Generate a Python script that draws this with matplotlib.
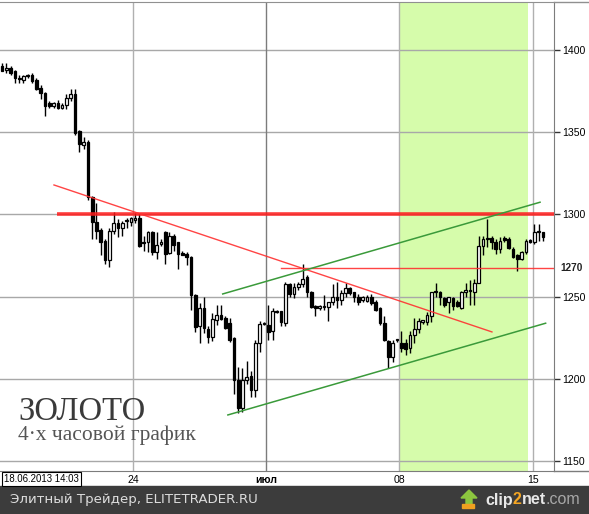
import numpy as np
import matplotlib.pyplot as plt
from matplotlib.patches import Rectangle, Polygon
from matplotlib.transforms import blended_transform_factory

# 4-hour gold candles, 18.06.2013 .. 15.07.2013 (open, high, low, close)
opens = [1390, 1388, 1389, 1387, 1383, 1381.5, 1385, 1384.5, 1382, 1377,
         1374, 1367.5, 1366, 1368, 1365, 1366.5, 1371, 1373, 1351, 1342,
         1344, 1310.5, 1295.5, 1290.5, 1284, 1272, 1290, 1295, 1292, 1296,
         1295.5, 1296.5, 1298, 1283.5, 1283, 1289.5, 1277, 1282, 1289, 1276.5,
         1287, 1283, 1276.5, 1276, 1274, 1251, 1232, 1243, 1230, 1225.5,
         1236, 1239, 1237, 1234, 1225, 1199, 1182, 1199, 1201.5, 1193,
         1222, 1233.5, 1233, 1229, 1241.5, 1241, 1234, 1257.5, 1251.5, 1256,
         1257.5, 1262, 1253, 1244, 1243, 1244.5, 1243.5, 1246.5, 1250, 1248,
         1252, 1255.5, 1252.5, 1250, 1248, 1247.5, 1249.5, 1247, 1243, 1234,
         1223, 1213.5, 1223.5, 1222, 1222, 1219, 1226.5, 1230, 1234.5, 1234.5,
         1238, 1253.5, 1253, 1249, 1247, 1249, 1246.5, 1243, 1253, 1253.5,
         1253, 1258.5, 1281, 1285, 1285.5, 1283.5, 1279, 1285.5, 1285, 1279,
         1275, 1273, 1277, 1284.5, 1283, 1289, 1289.5]
highs = [1392, 1392, 1390, 1388, 1385, 1385, 1385.5, 1386, 1383, 1379,
         1374.5, 1369, 1368.5, 1369.5, 1368, 1373, 1376, 1376, 1351.5, 1347,
         1345, 1311, 1307, 1292, 1285, 1292, 1301.5, 1297, 1296, 1298,
         1298.5, 1301, 1301, 1287, 1290, 1290, 1289.5, 1285, 1290, 1289.5,
         1288, 1283.5, 1277.5, 1277, 1274.5, 1251.5, 1246, 1250, 1232, 1240,
         1245, 1245, 1238, 1237, 1225.5, 1207, 1206.5, 1211, 1205, 1223.5,
         1235, 1234.5, 1245, 1243, 1242, 1241.5, 1259, 1258, 1258, 1259,
         1270, 1263, 1253.5, 1245, 1245, 1251, 1247, 1257.5, 1259, 1254,
         1258, 1256, 1253, 1251.5, 1250.5, 1251, 1251.5, 1248, 1243.5, 1238,
         1223.5, 1223.5, 1224.5, 1229, 1224.5, 1229, 1237, 1237, 1236, 1240.5,
         1253, 1258, 1253.5, 1250, 1250, 1250, 1248, 1253.5, 1258, 1260,
         1261, 1287, 1287, 1297, 1287, 1285, 1286, 1287, 1286, 1280,
         1276, 1278, 1285, 1285, 1294, 1294, 1289.5]
lows = [1387, 1386, 1385, 1380, 1380, 1380, 1383, 1380, 1375.5, 1370,
        1360, 1365, 1365, 1364, 1364, 1364, 1369, 1348, 1338, 1340,
        1309, 1285, 1285, 1275, 1270, 1268, 1288, 1286, 1287, 1292,
        1293, 1295, 1280, 1278, 1277, 1275, 1273, 1280.5, 1270, 1276,
        1278, 1267, 1275, 1269, 1242, 1228.5, 1222, 1228, 1222, 1223,
        1233, 1236, 1230, 1222.5, 1191, 1179, 1180, 1197, 1189, 1189,
        1216, 1232.5, 1223.5, 1223.5, 1240, 1232, 1232, 1250, 1249, 1254,
        1256, 1250, 1243, 1238, 1242, 1242, 1235, 1245, 1243, 1245,
        1250, 1251, 1247, 1245, 1247, 1247, 1245, 1241.5, 1233, 1223,
        1206.5, 1210, 1222.5, 1216, 1214.5, 1215.5, 1221.5, 1228, 1233.5, 1233,
        1234.5, 1249.5, 1245, 1243.5, 1240, 1242, 1243.5, 1242.5, 1250, 1245,
        1245, 1258, 1275, 1280, 1279, 1276, 1276.5, 1283.5, 1279, 1273.5,
        1265.5, 1272, 1276, 1282.5, 1282, 1284, 1284]
closes = [1387.5, 1389, 1386, 1383, 1382.5, 1384, 1384, 1381, 1376, 1374,
          1366, 1366, 1368, 1365, 1366.5, 1371, 1373, 1349.5, 1343, 1344,
          1310.5, 1295.5, 1290, 1283, 1272, 1290, 1295, 1291.5, 1295, 1296.5,
          1298, 1298, 1281, 1282.5, 1289, 1277, 1281.5, 1283.5, 1276, 1287,
          1281.5, 1276, 1275.5, 1274, 1251, 1231.5, 1243, 1231, 1225.5, 1236.5,
          1239, 1236.5, 1231, 1223.5, 1199, 1182, 1199, 1201, 1193, 1222,
          1233.5, 1234, 1228.5, 1241, 1240.5, 1234.5, 1257.5, 1251.5, 1256, 1257.5,
          1261, 1253, 1243.5, 1243, 1244, 1243.5, 1246.5, 1250, 1248, 1252,
          1255.5, 1252, 1250, 1247, 1250, 1250, 1246, 1242, 1234, 1223.5,
          1213.5, 1222, 1224, 1219, 1218, 1226.5, 1230, 1235, 1235.5, 1238.5,
          1252.5, 1252.5, 1249.5, 1245, 1250, 1244.5, 1244.5, 1253, 1254, 1254,
          1258.5, 1281, 1285, 1285.5, 1283, 1279, 1284, 1284.5, 1279.5, 1274,
          1273, 1277, 1284, 1283, 1289.5, 1289.5, 1286.5]

week_starts = [30.5, 61.5, 92.5, 123.7]
week_labels = ['24', 'июл', '08', '15']
price_ticks = [1150, 1200, 1250, 1300, 1350, 1400]

# drawn analysis lines: (bar, price) pairs
resist_x, resist_y = [12.8, 128.6], [1300, 1300]
level_x, level_y = [65.0, 128.6], [1267.3, 1267.3]
down_x, down_y = [12.1, 114.1], [1317.9, 1228.5]
chan_up_x, chan_up_y = [51.4, 125.3], [1251.6, 1307.4]
chan_lo_x, chan_lo_y = [52.6, 126.6], [1178.0, 1233.8]
zone_x = [92.5, 122.5]

sans = 'Liberation Sans'

fig = plt.figure(figsize=(5.89, 5.14), dpi=100)
fig.patch.set_facecolor('white')
ax = fig.add_axes([0, 43 / 514, 554 / 589, 469 / 514])
ax.set_xlim(-0.47, 128.55)
ax.set_ylim(1143.9, 1429.2)

ax.axvspan(zone_x[0], zone_x[1], color='#d6fcab', zorder=0, lw=0)
for p in price_ticks:
    ax.axhline(p, color='#a8a8a8', lw=1, zorder=1)
for i, w in enumerate(week_starts):
    ax.axvline(w, color='#7c7c7c' if week_labels[i] == 'июл' else '#b0b0b0', lw=1, zorder=1)

x = np.arange(len(opens))
o = np.array(opens); h = np.array(highs); l = np.array(lows); c = np.array(closes)
up = c >= o
ax.vlines(x, l, h, color='black', lw=1, zorder=3)
body = np.maximum(np.abs(c - o), 0.7)
bottom = np.minimum(o, c)
ax.bar(x[up], body[up], bottom=bottom[up], width=0.62, color='white',
       edgecolor='black', linewidth=0.9, zorder=4)
ax.bar(x[~up], body[~up], bottom=bottom[~up], width=0.62, color='black',
       edgecolor='black', linewidth=0.9, zorder=4)

ax.plot(resist_x, resist_y, color='#ff1a1a', lw=2.6, alpha=0.85, zorder=5, solid_capstyle='butt')
ax.plot(level_x, level_y, color='#ff3030', lw=1, alpha=0.9, zorder=5)
ax.plot(down_x, down_y, color='#ff3030', lw=1, alpha=0.9, zorder=5)
ax.plot(chan_up_x, chan_up_y, color='#3a9a3a', lw=1.1, zorder=5)
ax.plot(chan_lo_x, chan_lo_y, color='#3a9a3a', lw=1.1, zorder=5)

ax.spines['left'].set_visible(False)
ax.spines['right'].set_color('#7c7c7c')
ax.spines['top'].set_color('#909090')
ax.spines['bottom'].set_color('#7c7c7c')

ax.yaxis.tick_right()
ax.set_yticks(price_ticks)
ax.set_yticklabels([str(p) for p in price_ticks], family=sans)
ax.tick_params(axis='y', length=4, width=1, color='#333333', pad=2, labelsize=7.6)
ax.set_xticks(week_starts)
ax.set_xticklabels(week_labels, family=sans)
ax.tick_params(axis='x', length=0, pad=3, labelsize=7.6)
for t in ax.get_xticklabels():
    if t.get_text() == 'июл':
        t.set_fontweight('bold')

tr = blended_transform_factory(ax.transAxes, ax.transData)
ax.text(1.0115, level_y[0], '1270', transform=tr, fontsize=7.2, fontweight='bold',
        family=sans, va='center', ha='left', color='#222222')

ax.text(18 / 554, 1175, 'ЗОЛОТО', transform=tr, family='Liberation Serif', fontsize=23.5,
        color='#3a3a3a', va='baseline', zorder=6)
ax.text(18 / 554, 1163, '4·х часовой график', transform=tr, family='Liberation Serif',
        fontsize=15.5, color='#555555', va='baseline', zorder=6)

# lines continuing past axes on the figure
fig.add_artist(plt.Line2D([554 / 589, 1], [512 / 514, 512 / 514], color='#909090', lw=1))
fig.add_artist(plt.Line2D([554 / 589, 1], [43 / 514, 43 / 514], color='#7c7c7c', lw=1))

fig.text(4 / 589, 35 / 514, '18.06.2013 14:03', fontsize=6.9, family=sans,
         va='center', ha='left', color='black',
         bbox=dict(boxstyle='square,pad=0.2', fc='white', ec='black', lw=0.8))

fig.add_artist(Rectangle((0, 0), 1, 28 / 514, transform=fig.transFigure,
                         color='#3c3c3c', zorder=0))
fig.text(10 / 589, 14 / 514, 'Элитный Трейдер, ELITETRADER.RU', fontsize=9.6,
         color='#dddddd', va='center', ha='left')
fig.add_artist(Polygon([[466 / 589, 10 / 514], [472 / 589, 10 / 514], [472 / 589, 16 / 514],
                        [477 / 589, 16 / 514], [469 / 589, 24 / 514], [461 / 589, 16 / 514],
                        [466 / 589, 16 / 514]], closed=True, transform=fig.transFigure,
                       color='#8cc63f'))
fig.add_artist(Rectangle((462 / 589, 6 / 514), 12 / 589, 4 / 514, transform=fig.transFigure,
                         color='#f0a020'))

# clip2net logo pieces, placed one after another
renderer = fig.canvas.get_renderer()
xpos = 485 / 589
for part, col, wt in [('clip', '#e8e8e8', 'bold'), ('2', '#f5a623', 'bold'),
                      ('net', '#e8e8e8', 'bold'), ('.com', '#a8a8a8', 'normal')]:
    t = fig.text(xpos, 14 / 514, part, fontsize=11.5, fontweight=wt, family=sans,
                 color=col, va='center', ha='left')
    bb = t.get_window_extent(renderer=renderer)
    xpos += bb.width / fig.bbox.width

fig.savefig('out.png', dpi=100)
